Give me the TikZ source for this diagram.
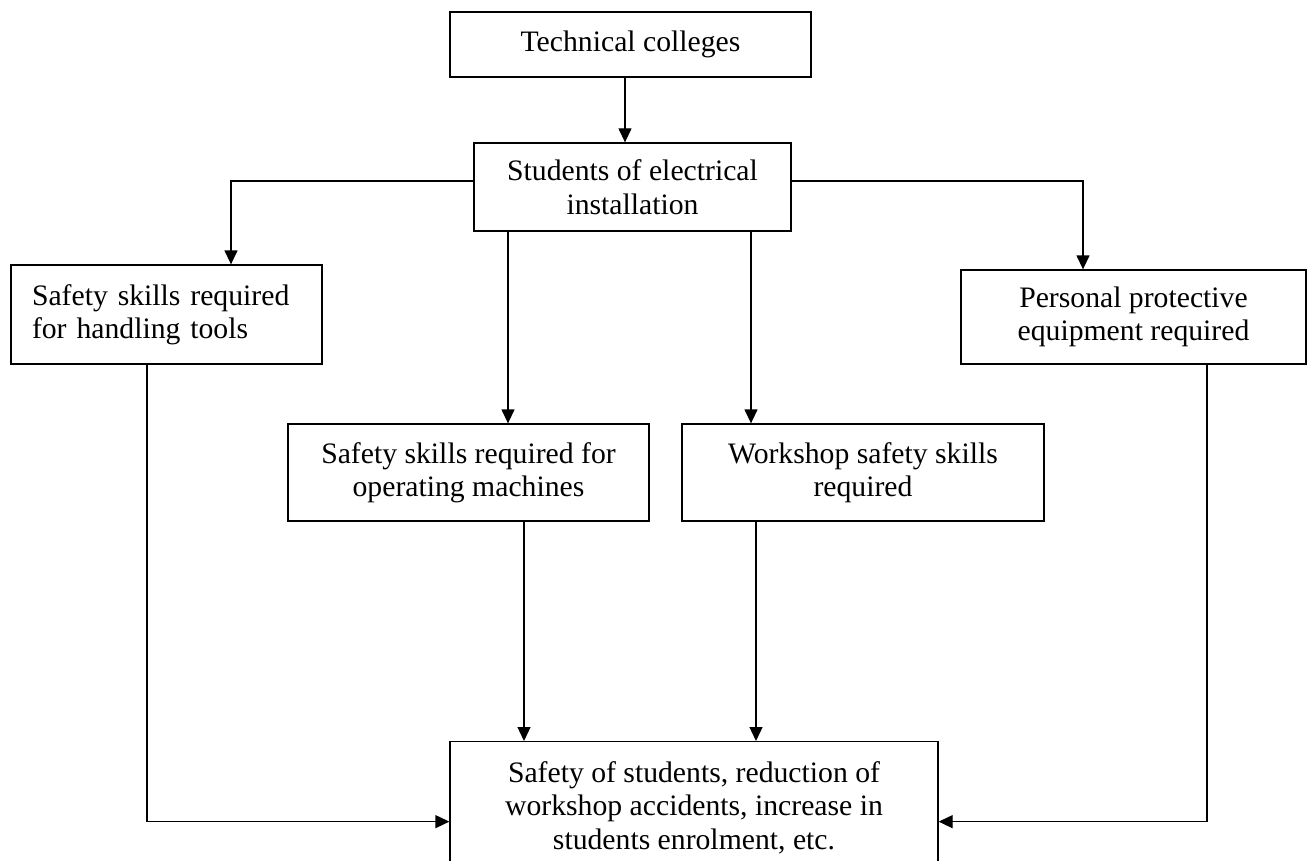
\documentclass[tikz,border=0pt]{standalone}
\usepackage{fontspec}
\setmainfont{Liberation Serif}
\usetikzlibrary{arrows.meta}
\begin{document}
\begin{tikzpicture}[x=1pt,y=-1pt,
  box/.style={draw, line width=1.3pt, inner sep=0pt, align=center, font=\fontsize{29.7}{33.5}\selectfont},
  conn/.style={line width=1.3pt},
  arr/.style={conn, -{Triangle[length=14pt,width=13pt]}}]
\useasboundingbox (0,0) rectangle (1309,861);
\fill[white] (0,0) rectangle (1309,861);
\clip (0,0) rectangle (1309,861);
\node[box, minimum width=361pt, minimum height=65pt] (tc) at (630.5,44.5) {Technical colleges};
\node[box, minimum width=317pt, minimum height=88pt] (st) at (632.5,187) {Students of electrical\\installation};
\node[box, align=left, text width=269pt, inner xsep=21pt, minimum height=99pt] (hand) at (166.5,314.5) {Safety skills required\\for handling tools};
\node[box, minimum width=345pt, minimum height=94pt] (ppe) at (1133.5,317) {Personal protective\\equipment required};
\node[box, minimum width=361pt, minimum height=97pt] (mach) at (468.5,472.5) {Safety skills required for\\operating machines};
\node[box, minimum width=362pt, minimum height=97pt] (ws) at (863,472.5) {Workshop safety skills\\required};
\node[box, minimum width=488pt, minimum height=132pt, anchor=north] (out) at (694,741) {Safety of students, reduction of\\workshop accidents, increase in\\students enrolment, etc.};

\draw[arr] ([xshift=-5.5pt]tc.south) -- ([xshift=-5.5pt]tc.south |- st.north);
\draw[arr] ([yshift=6pt]st.west) -| ([xshift=64.5pt]hand.north);
\draw[arr] ([yshift=6pt]st.east) -| ([xshift=-50.5pt]ppe.north);
\draw[arr] ([xshift=-124.5pt]st.south) -- ([xshift=-124.5pt]st.south |- mach.north);
\draw[arr] ([xshift=118.5pt]st.south) -- ([xshift=118.5pt]st.south |- ws.north);
\draw[arr] ([xshift=55.5pt]mach.south) -- ([xshift=55.5pt]mach.south |- out.north);
\draw[arr] ([xshift=-107pt]ws.south) -- ([xshift=-107pt]ws.south |- out.north);
\draw[arr] ([xshift=-19.5pt]hand.south) |- ([yshift=-14pt]out.west);
\draw[arr] ([xshift=73.5pt]ppe.south) |- ([yshift=-14pt]out.east);
\end{tikzpicture}
\end{document}
